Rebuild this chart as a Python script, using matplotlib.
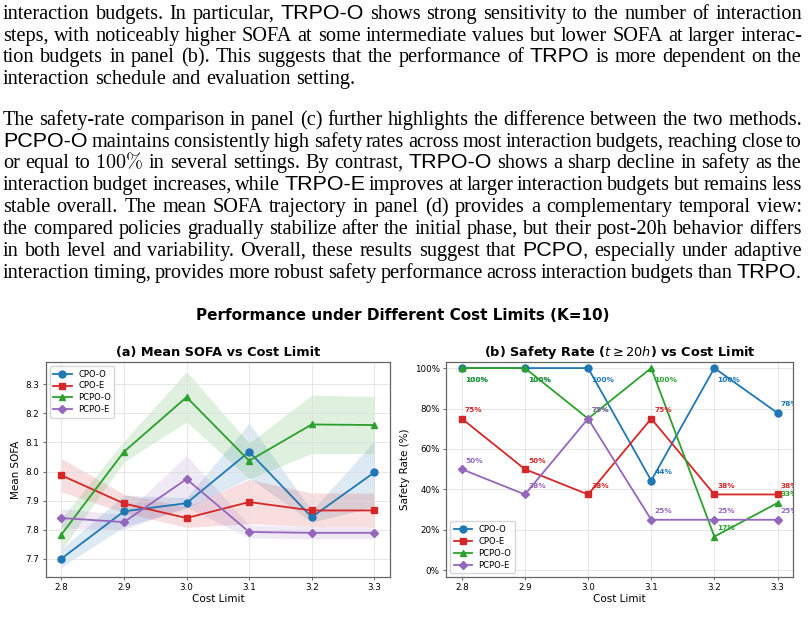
import matplotlib
matplotlib.use("Agg")
import matplotlib.pyplot as plt
from matplotlib.ticker import PercentFormatter

# ---- data ----
cost_limits = [2.8, 2.9, 3.0, 3.1, 3.2, 3.3]
methods = ['CPO-O', 'CPO-E', 'PCPO-O', 'PCPO-E']
colors = ['#1f77b4', '#d62728', '#2ca02c', '#9467bd']
markers = ['o', 's', '^', 'D']

# panel (a): mean SOFA with band (low / high)
sofa_cpo_o = [7.700, 7.863, 7.891, 8.068, 7.843, 7.997]
sofa_cpo_o_lo = [7.671, 7.810, 7.873, 7.978, 7.826, 7.878]
sofa_cpo_o_hi = [7.734, 7.918, 7.910, 8.166, 7.866, 8.105]

sofa_cpo_e = [7.987, 7.890, 7.840, 7.895, 7.866, 7.866]
sofa_cpo_e_lo = [7.930, 7.858, 7.808, 7.820, 7.810, 7.810]
sofa_cpo_e_hi = [8.045, 7.922, 7.878, 7.973, 7.926, 7.926]

sofa_pcpo_o = [7.783, 8.068, 8.256, 8.037, 8.162, 8.160]
sofa_pcpo_o_lo = [7.730, 8.033, 8.171, 7.975, 8.062, 8.062]
sofa_pcpo_o_hi = [7.838, 8.105, 8.344, 8.098, 8.263, 8.258]

sofa_pcpo_e = [7.840, 7.826, 7.974, 7.792, 7.789, 7.789]
sofa_pcpo_e_lo = [7.805, 7.800, 7.878, 7.772, 7.768, 7.768]
sofa_pcpo_e_hi = [7.872, 7.852, 8.056, 7.815, 7.810, 7.810]

# panel (b): safety rate (%)
safe_cpo_o = [100, 100, 100, 44.4, 100, 77.8]
safe_cpo_e = [75, 50, 37.5, 75, 37.5, 37.5]
safe_pcpo_o = [100, 100, 75, 100, 16.7, 33.3]
safe_pcpo_e = [50, 37.5, 75, 25, 25, 25]

# ---- page text above the figure ----
para_lines = [
    ("interaction budgets. In particular, TRPO-O shows strong sensitivity to the number of interaction", True),
    ("steps, with noticeably higher SOFA at some intermediate values but lower SOFA at larger interac-", True),
    ("tion budgets in panel (b). This suggests that the performance of TRPO is more dependent on the", True),
    ("interaction schedule and evaluation setting.", False),
    ("The safety-rate comparison in panel (c) further highlights the difference between the two methods.", True),
    ("PCPO-O maintains consistently high safety rates across most interaction budgets, reaching close to", True),
    ("or equal to 100% in several settings. By contrast, TRPO-O shows a sharp decline in safety as the", True),
    ("interaction budget increases, while TRPO-E improves at larger interaction budgets but remains less", True),
    ("stable overall. The mean SOFA trajectory in panel (d) provides a complementary temporal view:", True),
    ("the compared policies gradually stabilize after the initial phase, but their post-20h behavior differs", True),
    ("in both level and variability. Overall, these results suggest that PCPO, especially under adaptive", True),
    ("interaction timing, provides more robust safety performance across interaction budgets than TRPO.", True),
]
line_baselines = [19, 41, 62, 84, 125, 147, 168, 190, 212, 234, 256, 278]

W, H = 808, 625
fig = plt.figure(figsize=(W / 100, H / 100), dpi=100)
renderer = fig.canvas.get_renderer()

BASE = 13.0
SANS_RATIO = 1.06
LEFT, RIGHT = 3, 802


def kind(w):
    core = w.strip('.,:;()')
    if core.startswith('TRPO') or core.startswith('PCPO'):
        return 'sans'
    if w == '100%':
        return 'math'
    return 'serif'


def word_text(w):
    k = kind(w)
    if k == 'sans':
        return fig.text(0, 0, w, family='Liberation Sans', fontsize=BASE * SANS_RATIO, va='baseline')
    if k == 'math':
        return fig.text(0, 0, r'$100\%$', math_fontfamily='cm', fontsize=BASE, va='baseline')
    return fig.text(0, 0, w, family='Liberation Serif', fontsize=BASE, va='baseline')


all_lines = []
for line, justify in para_lines:
    words = line.split(' ')
    all_lines.append((words, [word_text(w) for w in words], justify))

# pick a body size so that full lines fill the column with ordinary spaces
ratios = []
for words, texts, justify in all_lines:
    if not justify:
        continue
    wsum = sum(t.get_window_extent(renderer).width for t in texts)
    space = 0.27 * BASE * 100 / 72
    ratios.append((RIGHT - LEFT) / (wsum + space * (len(words) - 1)))
ratios.sort()
scale = ratios[len(ratios) // 2]
size = BASE * scale

for (words, texts, justify), yb in zip(all_lines, line_baselines):
    for w, t in zip(words, texts):
        t.set_fontsize(size * SANS_RATIO if kind(w) == 'sans' else size)
    widths = [t.get_window_extent(renderer).width for t in texts]
    if justify:
        gap = (RIGHT - LEFT - sum(widths)) / (len(words) - 1)
    else:
        gap = 0.27 * size * 100 / 72
    x = LEFT
    for t, wd in zip(texts, widths):
        t.set_position((x / W, 1 - yb / H))
        x += wd + gap

# ---- charts ----
fig.text(403 / W, 1 - 315 / H, 'Performance under Different Cost Limits (K=10)',
         ha='center', va='center', fontsize=11, fontweight='bold', family='DejaVu Sans')

ax1 = fig.add_axes([45.7 / W, 48 / H, 344.3 / W, 215 / H])
ax2 = fig.add_axes([446 / W, 48 / H, 347.3 / W, 215 / H])

sofa_series = [
    (sofa_cpo_o, sofa_cpo_o_lo, sofa_cpo_o_hi),
    (sofa_cpo_e, sofa_cpo_e_lo, sofa_cpo_e_hi),
    (sofa_pcpo_o, sofa_pcpo_o_lo, sofa_pcpo_o_hi),
    (sofa_pcpo_e, sofa_pcpo_e_lo, sofa_pcpo_e_hi),
]
for name, c, m, (mean, lo, hi) in zip(methods, colors, markers, sofa_series):
    ax1.fill_between(cost_limits, lo, hi, color=c, alpha=0.15, linewidth=0)
    ax1.plot(cost_limits, mean, color=c, marker=m, markersize=5 if m != 'D' else 4.5,
             linewidth=1.3, label=name)

ax1.set_title('(a) Mean SOFA vs Cost Limit', fontsize=9.3, fontweight='bold', pad=4)
ax1.set_xlabel('Cost Limit', fontsize=7.5, labelpad=1)
ax1.set_ylabel('Mean SOFA', fontsize=7.5, labelpad=3)
ax1.set_xticks(cost_limits)
ax1.set_yticks([7.7, 7.8, 7.9, 8.0, 8.1, 8.2, 8.3])
ax1.set_ylim(7.637, 8.377)
ax1.legend(loc='upper left', fontsize=6, handlelength=2.2, borderpad=0.4, labelspacing=0.35)

safe_series = [safe_cpo_o, safe_cpo_e, safe_pcpo_o, safe_pcpo_e]
for name, c, m, vals in zip(methods, colors, markers, safe_series):
    ax2.plot(cost_limits, vals, color=c, marker=m, markersize=5 if m != 'D' else 4.5,
             linewidth=1.3, label=name)
    for x, v in zip(cost_limits, vals):
        dy = -8.4 if v >= 99 else 6.2
        ax2.annotate(f'{v:.0f}%', (x, v), xytext=(2.3, dy), textcoords='offset points',
                     ha='left', va='center', fontsize=5.3, fontweight='bold', color=c,
                     annotation_clip=False, clip_on=True)

ax2.set_title(r'(b) Safety Rate ($t \geq 20h$) vs Cost Limit', fontsize=9.3, fontweight='bold', pad=4)
ax2.set_xlabel('Cost Limit', fontsize=7.5, labelpad=1)
ax2.set_ylabel('Safety Rate (%)', fontsize=7.5, labelpad=3)
ax2.set_xticks(cost_limits)
ax2.set_yticks([0, 20, 40, 60, 80, 100])
ax2.set_ylim(-3.3, 103)
ax2.legend(loc='lower left', fontsize=6, handlelength=2.2, borderpad=0.4, labelspacing=0.35)

for ax in (ax1, ax2):
    ax.grid(True, color='#dddddd', linewidth=0.7, alpha=0.7)
    ax.tick_params(labelsize=6.3, length=2.5, width=0.6, pad=2, color='#555555')
    for s in ax.spines.values():
        s.set_color('#666666')
        s.set_linewidth(0.9)
    ax.xaxis.set_major_formatter(plt.FormatStrFormatter('%.1f'))

ax2.yaxis.set_major_formatter(PercentFormatter(decimals=0))

fig.savefig('out.png', dpi=100)
